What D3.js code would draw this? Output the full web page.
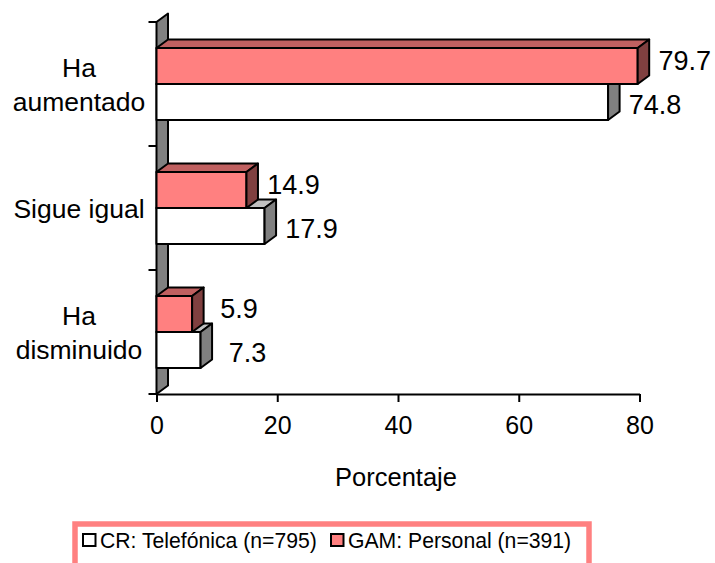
<!DOCTYPE html>
<html>
<head>
<meta charset="utf-8">
<script src="https://cdn.jsdelivr.net/npm/d3@7"></script>
<style>
  html, body { margin: 0; padding: 0; background: #fff; }
  svg { display: block; font-family: "Liberation Sans", Arial, sans-serif; }
</style>
</head>
<body>
<svg id="chart" width="715" height="563"></svg>
<script>
// Survey answers, one row per category
const categories = ["Ha aumentado", "Sigue igual", "Ha disminuido"];
const categoryLines = [["Ha", "aumentado"], ["Sigue igual"], ["Ha", "disminuido"]];
const seriesKeys = ["GAM", "CR"];
const seriesLabels = ["CR: Telefónica (n=795)", "GAM: Personal (n=391)"];
const crValues = [74.8, 17.9, 7.3];
const gamValues = [79.7, 14.9, 5.9];
const xTicks = [0, 20, 40, 60, 80];
const axisTitle = "Porcentaje";

const svg = d3.select("#chart");

const depthX = 11.5, depthY = 8.5;       // oblique depth of the 3-D bars
const plotTop = 22, plotBottom = 394;

const x = d3.scaleLinear().domain([0, 80]).range([156.5, 639.5]);
const y = d3.scaleBand().domain(categories).range([plotTop, plotBottom]);
const bandW = y.bandwidth();
const barH = 36;
const sub = d3.scaleBand().domain(seriesKeys)
  .range([(bandW - 2 * barH) / 2, (bandW + 2 * barH) / 2]);

const styles = {
  CR:  { front: "#FFFFFF", top: "#C0C0C0", side: "#808080", labelDy: 12 },
  GAM: { front: "#FF8080", top: "#C06060", side: "#804040", labelDy: 4 }
};

// Back wall (the 3-D category axis plane)
const x0 = x(0);
svg.append("path")
  .attr("d", d3.line()([
    [x0, plotTop], [x0 + depthX, plotTop - depthY],
    [x0 + depthX, plotBottom - depthY], [x0, plotBottom]
  ]) + "Z")
  .attr("fill", "#808080").attr("stroke", "#000").attr("stroke-width", 2)
  .attr("stroke-linejoin", "round");

// Category axis tick marks at band boundaries
const boundaries = categories.map(c => y(c)).concat([plotBottom]);
svg.append("g").selectAll("line").data(boundaries).join("line")
  .attr("x1", x0 - 8).attr("x2", x0)
  .attr("y1", d => d).attr("y2", d => d)
  .attr("stroke", "#000").attr("stroke-width", 2);

// Value axis
const xAxis = svg.append("g")
  .attr("transform", `translate(0,${plotBottom})`)
  .call(d3.axisBottom(x).tickValues(xTicks).tickSize(8).tickSizeOuter(0));
xAxis.select(".domain").attr("stroke-width", 2);
xAxis.selectAll(".tick line").attr("stroke-width", 2);
xAxis.selectAll(".tick text")
  .attr("y", 39.5).attr("dy", 0)
  .attr("font-size", 25).attr("fill", "#000")
  .attr("font-family", "Liberation Sans, Arial, sans-serif");

// Rows: draw CR first so the GAM bar above overlaps its top face
const rows = categories.map((c, i) => ({
  cat: c,
  bars: [
    { key: "CR", value: crValues[i] },
    { key: "GAM", value: gamValues[i] }
  ]
}));

function bar3d(g, d, cat) {
  const xa = x(0), xb = x(d.value);
  const ya = y(cat) + sub(d.key), yb = ya + barH;
  const s = styles[d.key];
  const attrs = sel => sel.attr("stroke", "#000").attr("stroke-width", 2)
    .attr("stroke-linejoin", "round");
  g.append("rect").attr("x", xa).attr("y", ya)
    .attr("width", xb - xa).attr("height", barH)
    .attr("fill", s.front).call(attrs);
  g.append("path")
    .attr("d", d3.line()([[xa, ya], [xa + depthX, ya - depthY], [xb + depthX, ya - depthY], [xb, ya]]) + "Z")
    .attr("fill", s.top).call(attrs);
  g.append("path")
    .attr("d", d3.line()([[xb, ya], [xb + depthX, ya - depthY], [xb + depthX, yb - depthY], [xb, yb]]) + "Z")
    .attr("fill", s.side).call(attrs);
}

const barsG = svg.append("g");
rows.forEach(r => r.bars.forEach(b => bar3d(barsG, b, r.cat)));

// Value labels
const labelG = svg.append("g");
rows.forEach(r => r.bars.forEach(b => {
  const cy = y(r.cat) + sub(b.key) + barH / 2;
  labelG.append("text")
    .attr("x", x(b.value) + 47)
    .attr("y", cy + styles[b.key].labelDy)
    .attr("text-anchor", "middle")
    .attr("font-size", 27)
    .text(b.value.toFixed(1));
}));

// Category labels
const catG = svg.append("g");
categories.forEach((c, i) => {
  const lines = categoryLines[i];
  const cy = y(c) + bandW / 2;
  const lh = 34;
  lines.forEach((t, j) => {
    catG.append("text")
      .attr("x", 79)
      .attr("y", cy + (j - (lines.length - 1) / 2) * lh + 10)
      .attr("text-anchor", "middle")
      .attr("font-size", 26.5)
      .text(t);
  });
});

// Axis title
svg.append("text")
  .attr("x", 396).attr("y", 485.5)
  .attr("text-anchor", "middle")
  .attr("font-size", 25.5)
  .text(axisTitle);

// Legend
const legend = svg.append("g");
legend.append("rect")
  .attr("x", 75).attr("y", 524).attr("width", 514).attr("height", 60)
  .attr("fill", "#fff").attr("stroke", "#FF8080").attr("stroke-width", 5.5);
const legendItems = [
  { label: seriesLabels[0], fill: styles.CR.front, x: 83 },
  { label: seriesLabels[1], fill: styles.GAM.front, x: 331 }
];
legendItems.forEach(it => {
  legend.append("rect")
    .attr("x", it.x).attr("y", 534).attr("width", 12.5).attr("height", 12)
    .attr("fill", it.fill).attr("stroke", "#000").attr("stroke-width", 2);
  legend.append("text")
    .attr("x", it.x + 17).attr("y", 547.5)
    .attr("font-size", 21.2)
    .text(it.label);
});
</script>
</body>
</html>
